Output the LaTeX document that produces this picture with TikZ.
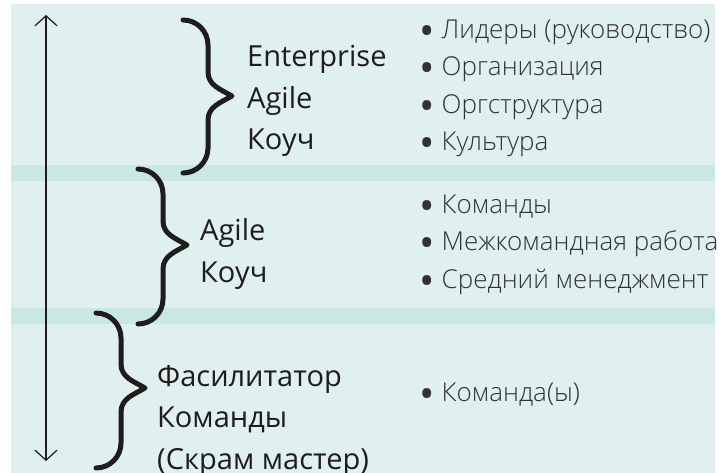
\documentclass[tikz,border=0pt]{standalone}
\usepackage{fontspec}
\setmainfont{Open Sans}
\newfontfamily\lightsans{Open Sans Light}
\usetikzlibrary{arrows.meta, positioning}
\definecolor{bandmint}{RGB}{223, 240, 238}
\definecolor{gapmint}{RGB}{201, 232, 226}
\definecolor{inkdark}{RGB}{30, 28, 29}
\definecolor{inkgrey}{RGB}{50, 50, 50}
\newcommand{\bigdot}{\makebox[22pt][l]{\raisebox{-7pt}{\rmfamily\fontsize{41}{41}\selectfont •}}}

\begin{document}
\begin{tikzpicture}[
    x=1pt, y=-1pt,
    role/.style={anchor=base west, align=left, inner sep=0pt, text=inkdark, font=\fontsize{29}{41.5}\selectfont},
    area/.style={anchor=base west, align=left, inner sep=0pt, text=inkgrey, font=\lightsans\fontsize{26}{37.5}\selectfont},
    curly/.style={line width=5pt, line cap=round, line join=round, draw=inkdark},
    levelarrow/.style={{Straight Barb[length=10pt, width=22pt]}-{Straight Barb[length=10pt, width=22pt]}, line width=1.2pt, draw=inkdark}
]
\useasboundingbox (0,0) rectangle (722,473);

% background bands
\fill[bandmint] (11,4) rectangle (715,473);
\fill[gapmint] (11,165) rectangle (715,181);
\fill[gapmint] (11,308) rectangle (715,324);

% level arrow
\coordinate (high) at (46,15);
\coordinate (low) at (46,461);
\draw[levelarrow] (high) -- (low);

% braces
\foreach \ex/\ty/\my/\by in {183/20/96/173, 138/169/245/324, 96/313/388/468}{
    \draw[curly] (\ex,\ty) to[out=0,in=90] (\ex+25,\ty+25) -- (\ex+25,\my-24)
        to[out=-90,in=150] (\ex+49,\my) to[out=210,in=90] (\ex+25,\my+24)
        -- (\ex+25,\by-25) to[out=-90,in=0] (\ex,\by);
}

% roles (anchored at the last line)
\node[role] (entcoach) at (247,150) {Enterprise\\Agile\\Коуч};
\node[role] (agilecoach) at (200,282) {Agile\\Коуч};
\node[role] (facil) at (157,469) {Фасилитатор\\Команды\\(Скрам мастер)};

% focus areas
\node[area] (orgfocus) at (419.5,151) {\bigdot Лидеры (руководство)\\\bigdot Организация\\\bigdot Оргструктура\\\bigdot Культура};
\node[area] (teamfocus) at (419.5,288) {\bigdot Команды\\\bigdot Межкомандная работа\\\bigdot Средний менеджмент};
\node[area] (singlefocus) at (419.5,401) {\bigdot Команда(ы)};

\end{tikzpicture}
\end{document}
